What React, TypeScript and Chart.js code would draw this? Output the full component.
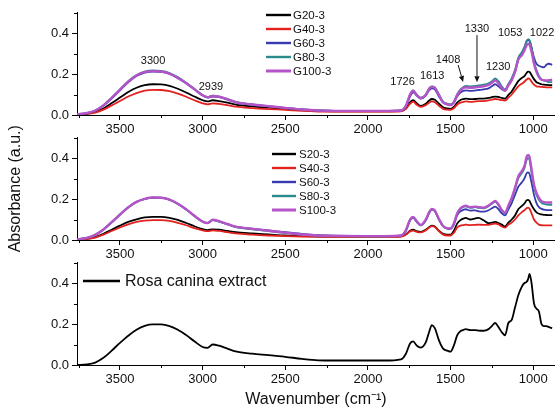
import React, { useEffect, useRef } from "react";
import { Chart, registerables } from "chart.js";
Chart.register(...registerables);

const FONT = "'Liberation Sans', Arial, Helvetica, sans-serif";

// Wavenumber grid (cm-1), shared by all spectra
const wavenumbers = [
  3760, 3700, 3650, 3600, 3550, 3500, 3450, 3400, 3350, 3300,
  3250, 3200, 3150, 3100, 3050, 3000, 2970, 2939, 2900, 2850,
  2800, 2700, 2600, 2500, 2400, 2300, 2200, 2000, 1900, 1800,
  1770, 1745, 1726, 1705, 1680, 1650, 1630, 1613, 1595, 1570,
  1545, 1520, 1500, 1480, 1460, 1440, 1420, 1408, 1380, 1350,
  1330, 1300, 1270, 1250, 1230, 1210, 1190, 1170, 1150, 1130,
  1110, 1090, 1070, 1053, 1040, 1030, 1022, 1010, 995, 980,
  965, 950, 935, 920, 905, 885,
];

// Panel 1
const g20 = [
  0.002, 0.006, 0.015, 0.032, 0.058, 0.085, 0.112, 0.133, 0.146, 0.15,
  0.149, 0.142, 0.128, 0.11, 0.09, 0.072, 0.066, 0.072, 0.068, 0.06,
  0.051, 0.042, 0.036, 0.03, 0.024, 0.02, 0.018, 0.018, 0.018, 0.02,
  0.032, 0.062, 0.072, 0.058, 0.045, 0.055, 0.07, 0.078, 0.074, 0.055,
  0.038, 0.032, 0.03, 0.04, 0.06, 0.073, 0.078, 0.08, 0.077, 0.078,
  0.08, 0.08, 0.083, 0.087, 0.09, 0.088, 0.083, 0.08, 0.098, 0.115,
  0.14, 0.165, 0.18, 0.19, 0.205, 0.212, 0.21, 0.195, 0.175, 0.16,
  0.155, 0.15, 0.148, 0.147, 0.146, 0.146,
];
const g40 = [
  0.002, 0.005, 0.012, 0.026, 0.047, 0.068, 0.09, 0.107, 0.119, 0.123,
  0.122, 0.116, 0.104, 0.089, 0.072, 0.057, 0.052, 0.057, 0.054, 0.048,
  0.041, 0.034, 0.029, 0.025, 0.02, 0.017, 0.016, 0.016, 0.016, 0.018,
  0.03, 0.055, 0.065, 0.05, 0.04, 0.048, 0.06, 0.066, 0.062, 0.045,
  0.03, 0.026, 0.025, 0.033, 0.05, 0.06, 0.064, 0.066, 0.064, 0.066,
  0.068, 0.068, 0.071, 0.075, 0.078, 0.076, 0.072, 0.07, 0.085, 0.1,
  0.12, 0.14, 0.152, 0.162, 0.173, 0.178, 0.176, 0.163, 0.148, 0.14,
  0.138, 0.137, 0.136, 0.135, 0.135, 0.135,
];
const g60 = [
  0.003, 0.008, 0.02, 0.045, 0.08, 0.12, 0.16, 0.19, 0.207, 0.212,
  0.21, 0.2, 0.18, 0.155, 0.125, 0.095, 0.085, 0.09, 0.087, 0.075,
  0.062, 0.05, 0.042, 0.034, 0.027, 0.022, 0.02, 0.02, 0.02, 0.022,
  0.04, 0.09, 0.11, 0.095, 0.08, 0.095, 0.12, 0.13, 0.125, 0.09,
  0.06, 0.052, 0.05, 0.06, 0.09, 0.11, 0.118, 0.12, 0.118, 0.12,
  0.122, 0.125, 0.13, 0.14, 0.15, 0.14, 0.125, 0.118, 0.15, 0.175,
  0.21, 0.27, 0.3, 0.33, 0.36, 0.365, 0.36, 0.33, 0.28, 0.25,
  0.24, 0.235, 0.232, 0.245, 0.25, 0.245,
];
const g80 = [
  0.003, 0.01, 0.022, 0.048, 0.085, 0.125, 0.165, 0.195, 0.212, 0.217,
  0.215, 0.205, 0.185, 0.158, 0.128, 0.098, 0.088, 0.095, 0.09, 0.078,
  0.064, 0.052, 0.043, 0.035, 0.027, 0.022, 0.02, 0.02, 0.02, 0.022,
  0.045, 0.1, 0.12, 0.1, 0.085, 0.1, 0.13, 0.14, 0.135, 0.1,
  0.065, 0.055, 0.052, 0.065, 0.1, 0.125, 0.138, 0.142, 0.14, 0.142,
  0.145, 0.148, 0.155, 0.165, 0.178, 0.165, 0.14, 0.125, 0.15, 0.18,
  0.22, 0.28, 0.305, 0.33, 0.36, 0.37, 0.365, 0.33, 0.26, 0.22,
  0.19, 0.175, 0.168, 0.165, 0.16, 0.16,
];
const g100 = [
  0.003, 0.01, 0.022, 0.047, 0.084, 0.124, 0.163, 0.193, 0.21, 0.214,
  0.212, 0.202, 0.182, 0.156, 0.126, 0.096, 0.087, 0.093, 0.089, 0.077,
  0.063, 0.051, 0.043, 0.035, 0.027, 0.022, 0.02, 0.02, 0.02, 0.022,
  0.045, 0.1, 0.118, 0.098, 0.082, 0.097, 0.127, 0.137, 0.132, 0.097,
  0.062, 0.052, 0.048, 0.062, 0.097, 0.12, 0.132, 0.135, 0.133, 0.135,
  0.137, 0.14, 0.147, 0.157, 0.168, 0.155, 0.132, 0.12, 0.145, 0.17,
  0.21, 0.27, 0.29, 0.315, 0.34, 0.348, 0.343, 0.31, 0.25, 0.21,
  0.185, 0.172, 0.17, 0.168, 0.17, 0.172,
];

// Panel 2
const s20 = [
  0.002, 0.006, 0.014, 0.03, 0.05, 0.07, 0.088, 0.101, 0.11, 0.113,
  0.113, 0.108, 0.098, 0.083, 0.067, 0.053, 0.048, 0.052, 0.05, 0.044,
  0.038, 0.032, 0.027, 0.022, 0.019, 0.017, 0.016, 0.016, 0.016, 0.018,
  0.028, 0.045, 0.05, 0.043, 0.04, 0.05, 0.062, 0.07, 0.066, 0.045,
  0.03, 0.026, 0.026, 0.045, 0.08, 0.097, 0.105, 0.108, 0.1, 0.105,
  0.108, 0.096, 0.082, 0.085, 0.088, 0.083, 0.075, 0.066, 0.085, 0.1,
  0.12, 0.15, 0.165, 0.178, 0.193, 0.196, 0.19, 0.17, 0.15, 0.135,
  0.128, 0.125, 0.123, 0.122, 0.121, 0.121,
];
const s40 = [
  0.002, 0.005, 0.012, 0.026, 0.044, 0.061, 0.076, 0.088, 0.095, 0.097,
  0.097, 0.093, 0.084, 0.072, 0.058, 0.047, 0.043, 0.047, 0.044, 0.038,
  0.032, 0.026, 0.022, 0.019, 0.017, 0.016, 0.015, 0.015, 0.015, 0.017,
  0.026, 0.042, 0.046, 0.04, 0.037, 0.047, 0.06, 0.068, 0.064, 0.043,
  0.026, 0.022, 0.022, 0.035, 0.06, 0.07, 0.073, 0.075, 0.073, 0.074,
  0.075, 0.074, 0.074, 0.077, 0.08, 0.076, 0.066, 0.06, 0.075, 0.085,
  0.1, 0.12, 0.135, 0.145, 0.155, 0.158, 0.152, 0.13, 0.1, 0.085,
  0.075, 0.072, 0.071, 0.071, 0.071, 0.071,
];
const s60 = [
  0.003, 0.01, 0.025, 0.052, 0.088, 0.125, 0.16, 0.186, 0.201, 0.207,
  0.206, 0.197, 0.177, 0.15, 0.118, 0.09, 0.082, 0.097, 0.09, 0.077,
  0.065, 0.055, 0.047, 0.038, 0.03, 0.024, 0.021, 0.019, 0.019, 0.021,
  0.045, 0.095, 0.108, 0.088, 0.072, 0.095, 0.13, 0.148, 0.14, 0.1,
  0.068, 0.057, 0.055, 0.075, 0.12, 0.14, 0.148, 0.15, 0.143, 0.145,
  0.14, 0.138, 0.145, 0.155, 0.163, 0.15, 0.13, 0.12, 0.15, 0.18,
  0.22, 0.26, 0.28, 0.3, 0.325, 0.33, 0.322, 0.28, 0.22, 0.18,
  0.16, 0.152, 0.148, 0.146, 0.146, 0.146,
];
const s80 = [
  0.003, 0.01, 0.024, 0.05, 0.086, 0.123, 0.158, 0.185, 0.2, 0.206,
  0.205, 0.196, 0.176, 0.149, 0.117, 0.089, 0.082, 0.097, 0.09, 0.076,
  0.063, 0.052, 0.043, 0.034, 0.026, 0.021, 0.019, 0.018, 0.018, 0.021,
  0.047, 0.098, 0.11, 0.09, 0.072, 0.097, 0.133, 0.15, 0.142, 0.1,
  0.066, 0.056, 0.055, 0.078, 0.127, 0.152, 0.162, 0.164, 0.157, 0.16,
  0.157, 0.155, 0.165, 0.177, 0.186, 0.17, 0.143, 0.13, 0.165, 0.2,
  0.25, 0.3, 0.325, 0.35, 0.39, 0.398, 0.39, 0.33, 0.26, 0.22,
  0.195, 0.182, 0.176, 0.173, 0.172, 0.171,
];
const s100 = [
  0.003, 0.01, 0.025, 0.051, 0.087, 0.124, 0.159, 0.186, 0.201, 0.207,
  0.206, 0.197, 0.177, 0.15, 0.118, 0.09, 0.083, 0.099, 0.092, 0.078,
  0.065, 0.054, 0.045, 0.036, 0.027, 0.022, 0.02, 0.019, 0.019, 0.022,
  0.048, 0.1, 0.112, 0.092, 0.073, 0.099, 0.135, 0.152, 0.144, 0.102,
  0.068, 0.057, 0.056, 0.08, 0.13, 0.155, 0.165, 0.167, 0.16, 0.163,
  0.16, 0.158, 0.168, 0.18, 0.19, 0.173, 0.146, 0.133, 0.168, 0.205,
  0.255, 0.31, 0.335, 0.36, 0.405, 0.415, 0.405, 0.345, 0.27, 0.23,
  0.205, 0.19, 0.185, 0.183, 0.183, 0.183,
];

// Panel 3
const rosaCanina = [
  0.0, 0.003, 0.012, 0.035, 0.07, 0.108, 0.143, 0.172, 0.191, 0.198,
  0.198, 0.19, 0.172, 0.146, 0.116, 0.088, 0.084, 0.1, 0.094, 0.08,
  0.066, 0.055, 0.048, 0.04, 0.03, 0.023, 0.022, 0.022, 0.022, 0.028,
  0.055, 0.105, 0.115, 0.095, 0.085, 0.11, 0.16, 0.195, 0.18, 0.12,
  0.08, 0.07, 0.065, 0.095, 0.145, 0.165, 0.172, 0.175, 0.17, 0.17,
  0.168, 0.167, 0.175, 0.19, 0.205, 0.185, 0.16, 0.145, 0.205, 0.22,
  0.28, 0.34, 0.38, 0.4, 0.405, 0.42, 0.445, 0.4, 0.3, 0.275,
  0.26, 0.2, 0.19, 0.19, 0.185, 0.18,
];

const gLabels = ["G20-3", "G40-3", "G60-3", "G80-3", "G100-3"];
const sLabels = ["S20-3", "S40-3", "S60-3", "S80-3", "S100-3"];
const rosaLabel = "Rosa canina extract";
const seriesColors = ["#000000", "#e3221f", "#3a3ab0", "#2a8a8c", "#b553c8"];

const xMajorTicks = [3500, 3000, 2500, 2000, 1500, 1000];
const xMinorTicks = [3750, 3250, 2750, 2250, 1750, 1250];
const yMajorTicks = [0, 0.2, 0.4];
const yMinorTicks = [0.1, 0.3, 0.5];

// Peak annotations of panel 1 (wavenumber, absorbance of label centre)
const peakTexts = ["3300", "2939", "1726", "1613", "1408", "1330", "1230", "1053", "1022"];
const peakTextX = [3300, 2950, 1790, 1611, 1515, 1340, 1212, 1139, 946];
const peakTextY = [0.265, 0.135, 0.16, 0.19, 0.27, 0.42, 0.235, 0.4, 0.4];
// arrows: [fromX, fromY, toX, toY]
const arrows = [
  [1454, 0.244, 1424, 0.161],
  [1340, 0.39, 1340, 0.16],
];

const decorPlugin = {
  id: "decor",
  afterDraw(chart: any, _args: any, opts: any) {
    const ctx = chart.ctx;
    const xs = chart.scales.x;
    const ys = chart.scales.y;
    const area = chart.chartArea;
    ctx.save();
    ctx.strokeStyle = "#000";
    ctx.lineWidth = 1;
    xMinorTicks.forEach((v) => {
      if (v < xs.min || v > xs.max) return;
      const px = Math.round(xs.getPixelForValue(v)) + 0.5;
      ctx.beginPath();
      ctx.moveTo(px, area.bottom);
      ctx.lineTo(px, area.bottom + 3);
      ctx.stroke();
    });
    yMinorTicks.forEach((v) => {
      const py = Math.round(ys.getPixelForValue(v)) + 0.5;
      ctx.beginPath();
      ctx.moveTo(area.left, py);
      ctx.lineTo(area.left - 3, py);
      ctx.stroke();
    });
    // legend
    const lg = opts.legend;
    if (lg) {
      chart.data.datasets.forEach((ds: any, i: number) => {
        const y = lg.y0 + i * lg.dy;
        ctx.strokeStyle = ds.borderColor;
        ctx.lineWidth = ds.borderWidth + 0.6;
        ctx.beginPath();
        ctx.moveTo(lg.x0, y);
        ctx.lineTo(lg.x1, y);
        ctx.stroke();
        ctx.fillStyle = "#111";
        ctx.font = `${lg.fontSize}px ${FONT}`;
        ctx.textBaseline = "middle";
        ctx.textAlign = "left";
        ctx.fillText(ds.label, lg.textX, y + 0.5);
      });
    }
    if (opts.annotate) {
      ctx.fillStyle = "#111";
      ctx.font = `11px ${FONT}`;
      ctx.textAlign = "center";
      ctx.textBaseline = "middle";
      peakTexts.forEach((t, i) => {
        ctx.fillText(t, xs.getPixelForValue(peakTextX[i]), ys.getPixelForValue(peakTextY[i]));
      });
      ctx.strokeStyle = "#111";
      ctx.lineWidth = 1;
      arrows.forEach((a) => {
        const x0 = xs.getPixelForValue(a[0]);
        const y0 = ys.getPixelForValue(a[1]);
        const x1 = xs.getPixelForValue(a[2]);
        const y1 = ys.getPixelForValue(a[3]);
        const ang = Math.atan2(y1 - y0, x1 - x0);
        const hl = 6;
        const hw = 2.6;
        const bx = x1 - hl * Math.cos(ang);
        const by = y1 - hl * Math.sin(ang);
        ctx.beginPath();
        ctx.moveTo(x0, y0);
        ctx.lineTo(bx, by);
        ctx.stroke();
        ctx.beginPath();
        ctx.moveTo(x1, y1);
        ctx.lineTo(bx + hw * Math.sin(ang), by - hw * Math.cos(ang));
        ctx.lineTo(bx - hw * Math.sin(ang), by + hw * Math.cos(ang));
        ctx.closePath();
        ctx.fill();
      });
    }
    ctx.restore();
  },
};

type PanelSpec = {
  labels: string[];
  values: number[][];
  widths: number[];
  padTop: number;
  padBottom: number;
  xHeight: number;
  yTitle?: string;
  xTitle?: string;
  legend: any;
  annotate?: boolean;
};

function buildConfig(spec: PanelSpec): any {
  const n = spec.labels.length;
  const datasets = spec.labels.map((label, i) => ({
    label,
    data: wavenumbers.map((w, k) => ({ x: w, y: spec.values[i][k] })),
    borderColor: n === 1 ? "#000000" : seriesColors[i],
    backgroundColor: n === 1 ? "#000000" : seriesColors[i],
    borderWidth: spec.widths[i],
    pointRadius: 0,
    fill: false,
    cubicInterpolationMode: "monotone",
    order: n - i,
  }));
  return {
    type: "line",
    data: { datasets },
    plugins: [decorPlugin],
    options: {
      responsive: false,
      animation: false,
      events: [],
      layout: { padding: { top: spec.padTop, bottom: spec.padBottom, left: 0, right: 0 } },
      plugins: {
        legend: { display: false },
        tooltip: { enabled: false },
        decor: { legend: spec.legend, annotate: !!spec.annotate },
      },
      scales: {
        x: {
          type: "linear",
          reverse: true,
          min: 868,
          max: 3760,
          afterBuildTicks: (s: any) => {
            s.ticks = xMajorTicks.map((v) => ({ value: v }));
          },
          afterFit: (s: any) => {
            s.height = spec.xHeight;
          },
          ticks: {
            autoSkip: false,
            maxRotation: 0,
            padding: 2,
            color: "#111",
            font: { size: 13, family: FONT },
            callback: (v: any) => String(v),
          },
          grid: { display: true, drawOnChartArea: false, drawTicks: true, tickLength: 5, color: "#000", lineWidth: 1 },
          border: { display: true, color: "#000", width: 1 },
          title: spec.xTitle
            ? { display: true, text: spec.xTitle, color: "#111", font: { size: 16, family: FONT }, padding: { top: 0, bottom: 1 } }
            : { display: false },
        },
        y: {
          type: "linear",
          min: 0,
          max: 0.5,
          afterBuildTicks: (s: any) => {
            s.ticks = yMajorTicks.map((v) => ({ value: v }));
          },
          afterFit: (s: any) => {
            s.width = 77;
          },
          ticks: {
            padding: 3,
            color: "#111",
            font: { size: 13, family: FONT },
            callback: (v: any) => Number(v).toFixed(1),
          },
          grid: { display: true, drawOnChartArea: false, drawTicks: true, tickLength: 5, color: "#000", lineWidth: 1 },
          border: { display: true, color: "#000", width: 1 },
          title: spec.yTitle
            ? { display: true, text: spec.yTitle, color: "#111", font: { size: 16, family: FONT }, padding: { top: 6, bottom: 0 } }
            : { display: false },
        },
      },
    },
  };
}

const panels: PanelSpec[] = [
  {
    labels: gLabels,
    values: [g20, g40, g60, g80, g100],
    widths: [1.8, 1.8, 1.8, 1.8, 2.4],
    padTop: 12.5,
    padBottom: 275,
    xHeight: 20,
    legend: { x0: 266, x1: 291, textX: 293, y0: 15, dy: 14, fontSize: 11.5 },
    annotate: true,
  },
  {
    labels: sLabels,
    values: [s20, s40, s60, s80, s100],
    widths: [1.8, 1.8, 1.8, 1.8, 2.4],
    padTop: 137.5,
    padBottom: 150,
    xHeight: 20,
    yTitle: "Absorbance (a.u.)",
    legend: { x0: 272, x1: 296, textX: 299, y0: 154, dy: 14, fontSize: 11.5 },
  },
  {
    labels: [rosaLabel],
    values: [rosaCanina],
    widths: [1.8],
    padTop: 262.5,
    padBottom: 0,
    xHeight: 45,
    xTitle: "Wavenumber (cm\u207B\u00B9)",
    legend: { x0: 83, x1: 120, textX: 125, y0: 281, dy: 0, fontSize: 16 },
  },
];

export default function App() {
  const refs = [useRef<HTMLCanvasElement>(null), useRef<HTMLCanvasElement>(null), useRef<HTMLCanvasElement>(null)];
  useEffect(() => {
    document.body.style.margin = "0";
    Chart.defaults.font.family = FONT;
    const charts = panels.map((p, i) => new Chart(refs[i].current as HTMLCanvasElement, buildConfig(p)));
    return () => charts.forEach((c) => c.destroy());
  }, []);
  return (
    <div style={{ position: "relative", width: 555, height: 410, background: "#fff" }}>
      {panels.map((_, i) => (
        <canvas
          key={i}
          ref={refs[i]}
          width={555}
          height={410}
          style={{ position: "absolute", left: 0, top: 0, width: 555, height: 410 }}
        />
      ))}
    </div>
  );
}
